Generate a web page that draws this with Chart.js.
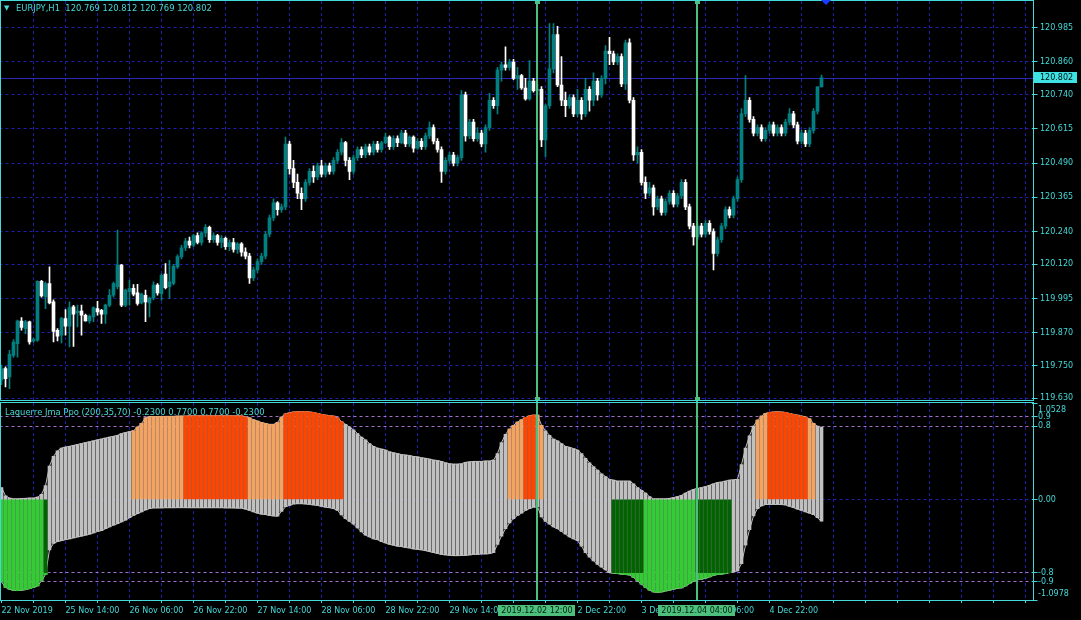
<!DOCTYPE html>
<html>
<head>
<meta charset="utf-8">
<script src="https://cdn.jsdelivr.net/npm/chart.js@4.4.1/dist/chart.umd.min.js"></script>
<style>
  body { margin: 0; background: #000; }
  #wrap { position: relative; width: 1081px; height: 620px; background: #000; overflow: hidden; }
  #top { position: absolute; left: -1px; top: 0; }
  #bottom { position: absolute; left: -1px; top: 401px; }
  .cap { position: absolute; color: #45d8d8; font: 8.4px "DejaVu Sans"; line-height: 10px; white-space: pre; }
</style>
</head>
<body>
<div id="wrap">
  <canvas id="top" width="1082" height="401"></canvas>
  <canvas id="bottom" width="1082" height="219"></canvas>
  <div class="cap" style="left:4px;top:3px;font-size:7px">▼</div>
  <div class="cap" style="left:16px;top:3px">EURJPY,H1  120.769 120.812 120.769 120.802</div>
  <div class="cap" style="left:5px;top:407px">Laguerre Jma Ppo (200,35,70) -0.2300 0.7700 0.7700 -0.2300</div>
</div>
<script>
// EURJPY H1 candles
const opens = [
  119.697, 119.739, 119.708, 119.787, 119.830, 119.913, 119.885, 119.910, 119.840, 119.843,
  120.058, 120.001, 120.050, 119.983, 119.879, 119.861, 119.922, 119.894, 119.965, 119.943,
  119.949, 119.934, 119.913, 119.928, 119.958, 119.952, 119.938, 119.971, 120.007, 120.038,
  120.117, 119.971, 120.020, 120.032, 120.016, 119.979, 120.007, 119.979, 119.997, 120.044,
  120.013, 120.084, 120.038, 120.050, 120.111, 120.148, 120.180, 120.205, 120.190, 120.225,
  120.200, 120.235, 120.255, 120.210, 120.225, 120.200, 120.215, 120.185, 120.200, 120.175,
  120.195, 120.165, 120.150, 120.070, 120.100, 120.130, 120.150, 120.230, 120.290, 120.345,
  120.320, 120.330, 120.560, 120.470, 120.420, 120.380, 120.360, 120.420, 120.460, 120.440,
  120.480, 120.450, 120.480, 120.460, 120.500, 120.530, 120.565, 120.500, 120.460, 120.510,
  120.540, 120.520, 120.550, 120.530, 120.560, 120.540, 120.565, 120.585, 120.550, 120.580,
  120.565, 120.600, 120.560, 120.585, 120.545, 120.570, 120.550, 120.590, 120.620, 120.570,
  120.540, 120.460, 120.500, 120.520, 120.490, 120.510, 120.740, 120.590, 120.640, 120.580,
  120.600, 120.560, 120.620, 120.720, 120.700, 120.830, 120.850, 120.840, 120.860, 120.800,
  120.810, 120.765, 120.725, 120.790, 120.755, 120.760, 120.575, 120.700, 120.835, 120.960,
  120.776, 120.720, 120.700, 120.730, 120.670, 120.720, 120.670, 120.760, 120.720, 120.790,
  120.740, 120.800, 120.900, 120.890, 120.860, 120.880, 120.780, 120.930, 120.720, 120.520,
  120.530, 120.420, 120.380, 120.400, 120.330, 120.360, 120.310, 120.350, 120.380, 120.340,
  120.370, 120.420, 120.330, 120.260, 120.220, 120.260, 120.230, 120.270, 120.240, 120.160,
  120.210, 120.260, 120.320, 120.300, 120.360, 120.430, 120.670, 120.720, 120.650, 120.600,
  120.620, 120.580, 120.610, 120.630, 120.600, 120.620, 120.600, 120.640, 120.670, 120.630,
  120.570, 120.600, 120.560, 120.610, 120.680, 120.769
];
const highs = [
  119.752, 119.745, 119.806, 119.845, 119.916, 119.925, 119.915, 119.913, 119.850, 120.060,
  120.062, 120.055, 120.111, 119.990, 119.885, 119.926, 119.955, 119.983, 119.970, 119.971,
  119.971, 119.938, 119.935, 119.965, 119.985, 119.956, 119.975, 120.028, 120.055, 120.245,
  120.120, 120.030, 120.062, 120.046, 120.047, 120.015, 120.026, 120.000, 120.056, 120.050,
  120.085, 120.123, 120.135, 120.120, 120.155, 120.190, 120.215, 120.220, 120.230, 120.235,
  120.240, 120.265, 120.260, 120.235, 120.230, 120.225, 120.220, 120.210, 120.215, 120.200,
  120.200, 120.180, 120.160, 120.110, 120.140, 120.160, 120.240, 120.300, 120.360, 120.350,
  120.340, 120.585, 120.570, 120.500, 120.450, 120.400, 120.430, 120.470, 120.480, 120.490,
  120.500, 120.490, 120.490, 120.510, 120.540, 120.580, 120.570, 120.510, 120.520, 120.550,
  120.550, 120.560, 120.560, 120.570, 120.570, 120.570, 120.600, 120.590, 120.590, 120.590,
  120.610, 120.610, 120.590, 120.590, 120.580, 120.580, 120.600, 120.640, 120.630, 120.580,
  120.550, 120.510, 120.530, 120.530, 120.520, 120.755, 120.750, 120.650, 120.650, 120.620,
  120.610, 120.630, 120.745, 120.730, 120.840, 120.860, 120.915, 120.870, 120.870, 120.840,
  120.815, 120.800, 120.865, 120.800, 120.780, 120.770, 120.705, 121.000, 121.000, 120.990,
  120.880, 120.750, 120.740, 120.740, 120.760, 120.730, 120.800, 120.770, 120.820, 120.800,
  120.810, 120.920, 120.950, 120.900, 120.890, 120.890, 120.940, 120.945, 120.730, 120.550,
  120.540, 120.440, 120.420, 120.410, 120.370, 120.370, 120.360, 120.390, 120.390, 120.380,
  120.430, 120.430, 120.340, 120.270, 120.270, 120.270, 120.280, 120.280, 120.250, 120.220,
  120.270, 120.330, 120.330, 120.370, 120.440, 120.690, 120.810, 120.730, 120.660, 120.630,
  120.630, 120.620, 120.640, 120.640, 120.630, 120.630, 120.650, 120.690, 120.680, 120.640,
  120.610, 120.610, 120.620, 120.690, 120.770, 120.812
];
const lows = [
  119.680, 119.672, 119.665, 119.780, 119.781, 119.879, 119.867, 119.828, 119.835, 119.838,
  120.000, 119.958, 119.975, 119.836, 119.840, 119.833, 119.861, 119.818, 119.820, 119.891,
  119.861, 119.912, 119.905, 119.910, 119.934, 119.904, 119.904, 119.965, 120.000, 120.030,
  119.965, 119.965, 119.971, 120.005, 119.971, 119.975, 119.910, 119.928, 119.990, 120.007,
  119.989, 120.030, 119.995, 120.045, 120.105, 120.140, 120.170, 120.180, 120.185, 120.195,
  120.190, 120.220, 120.200, 120.200, 120.190, 120.180, 120.175, 120.170, 120.165, 120.160,
  120.150, 120.140, 120.050, 120.060, 120.090, 120.120, 120.140, 120.220, 120.280, 120.300,
  120.310, 120.320, 120.450, 120.400, 120.360, 120.320, 120.350, 120.410, 120.420, 120.430,
  120.440, 120.440, 120.450, 120.450, 120.490, 120.520, 120.480, 120.430, 120.450, 120.500,
  120.510, 120.510, 120.520, 120.520, 120.530, 120.530, 120.560, 120.540, 120.540, 120.550,
  120.560, 120.550, 120.550, 120.530, 120.540, 120.540, 120.540, 120.580, 120.560, 120.530,
  120.420, 120.450, 120.490, 120.480, 120.480, 120.500, 120.570, 120.580, 120.570, 120.570,
  120.550, 120.530, 120.610, 120.690, 120.670, 120.790, 120.830, 120.830, 120.795, 120.760,
  120.760, 120.720, 120.720, 120.750, 120.740, 120.550, 120.514, 120.690, 120.820, 120.770,
  120.700, 120.660, 120.690, 120.660, 120.660, 120.650, 120.660, 120.680, 120.700, 120.720,
  120.730, 120.780, 120.850, 120.850, 120.850, 120.770, 120.760, 120.710, 120.500, 120.490,
  120.410, 120.360, 120.370, 120.300, 120.320, 120.300, 120.300, 120.340, 120.330, 120.330,
  120.360, 120.320, 120.250, 120.190, 120.210, 120.220, 120.220, 120.230, 120.100, 120.150,
  120.200, 120.250, 120.290, 120.290, 120.350, 120.420, 120.660, 120.640, 120.590, 120.590,
  120.570, 120.570, 120.600, 120.590, 120.590, 120.590, 120.590, 120.630, 120.620, 120.560,
  120.560, 120.550, 120.550, 120.600, 120.670, 120.769
];
const closes = [
  119.739, 119.702, 119.791, 119.836, 119.913, 119.889, 119.910, 119.836, 119.845, 120.058,
  120.005, 120.050, 119.979, 119.875, 119.857, 119.922, 119.894, 119.962, 119.938, 119.949,
  119.934, 119.913, 119.930, 119.962, 119.946, 119.938, 119.971, 120.007, 120.050, 120.117,
  119.971, 120.026, 120.032, 120.011, 119.977, 120.011, 119.983, 119.997, 120.044, 120.016,
  120.080, 120.035, 120.056, 120.113, 120.148, 120.180, 120.205, 120.190, 120.225, 120.200,
  120.235, 120.255, 120.210, 120.225, 120.200, 120.215, 120.185, 120.200, 120.175, 120.195,
  120.165, 120.150, 120.070, 120.100, 120.130, 120.150, 120.230, 120.290, 120.345, 120.320,
  120.330, 120.560, 120.470, 120.420, 120.380, 120.360, 120.420, 120.460, 120.440, 120.480,
  120.450, 120.480, 120.460, 120.500, 120.530, 120.565, 120.500, 120.460, 120.510, 120.540,
  120.520, 120.550, 120.530, 120.560, 120.540, 120.565, 120.585, 120.550, 120.580, 120.565,
  120.600, 120.560, 120.585, 120.545, 120.570, 120.550, 120.590, 120.620, 120.570, 120.540,
  120.460, 120.500, 120.520, 120.490, 120.510, 120.740, 120.590, 120.640, 120.580, 120.600,
  120.560, 120.620, 120.720, 120.700, 120.830, 120.850, 120.840, 120.860, 120.800, 120.810,
  120.765, 120.725, 120.790, 120.755, 120.760, 120.575, 120.700, 120.835, 120.960, 120.776,
  120.720, 120.700, 120.730, 120.670, 120.720, 120.670, 120.760, 120.720, 120.790, 120.740,
  120.800, 120.900, 120.890, 120.860, 120.880, 120.780, 120.930, 120.720, 120.520, 120.530,
  120.420, 120.380, 120.400, 120.330, 120.360, 120.310, 120.350, 120.380, 120.340, 120.370,
  120.420, 120.330, 120.260, 120.220, 120.260, 120.230, 120.270, 120.240, 120.160, 120.210,
  120.260, 120.320, 120.300, 120.360, 120.430, 120.670, 120.720, 120.650, 120.600, 120.620,
  120.580, 120.610, 120.630, 120.600, 120.620, 120.600, 120.640, 120.670, 120.630, 120.570,
  120.600, 120.560, 120.610, 120.680, 120.769, 120.802
];

const priceTicks = [120.985, 120.860, 120.740, 120.615, 120.490, 120.365, 120.240, 120.120, 119.995, 119.870, 119.750, 119.630];
const priceMin = 119.624;
const priceMax = 121.083;

// time axis: 258 hourly slots fit the window, labels every 16 bars
const slotCount = 258;
const timeTickBars = [0, 16, 32, 48, 64, 80, 96, 112, 128, 144, 160, 176, 192];
const timeTickLabels = ["22 Nov 2019", "25 Nov 14:00", "26 Nov 06:00", "26 Nov 22:00", "27 Nov 14:00", "28 Nov 06:00",
  "28 Nov 22:00", "29 Nov 14:00", "2 Dec 06:00", "2 Dec 22:00", "3 Dec 14:00", "4 Dec 06:00", "4 Dec 22:00"];

// Laguerre Jma Ppo band (upper / lower edge per bar)
const ppoUpper = [
  0.13, 0.04, 0.015, 0.007, 0.007, 0.01, 0.012, 0.015, 0.015, 0.025,
  0.055, 0.15, 0.365, 0.47, 0.53, 0.56, 0.572, 0.58, 0.59, 0.60,
  0.61, 0.62, 0.63, 0.64, 0.65, 0.66, 0.67, 0.68, 0.69, 0.70,
  0.72, 0.73, 0.74, 0.75, 0.79, 0.83, 0.89, 0.905, 0.905, 0.906,
  0.906, 0.907, 0.907, 0.908, 0.909, 0.91, 0.91, 0.913, 0.913, 0.913,
  0.913, 0.913, 0.913, 0.913, 0.913, 0.913, 0.913, 0.913, 0.913, 0.913,
  0.913, 0.90, 0.89, 0.87, 0.855, 0.84, 0.83, 0.82, 0.82, 0.84,
  0.90, 0.935, 0.945, 0.955, 0.957, 0.958, 0.958, 0.955, 0.95, 0.94,
  0.93, 0.92, 0.915, 0.91, 0.89, 0.85, 0.82, 0.79, 0.76, 0.72,
  0.68, 0.65, 0.61, 0.58, 0.56, 0.55, 0.54, 0.52, 0.51, 0.50,
  0.49, 0.485, 0.48, 0.47, 0.465, 0.455, 0.45, 0.44, 0.43, 0.425,
  0.415, 0.40, 0.39, 0.385, 0.385, 0.39, 0.405, 0.41, 0.415, 0.415,
  0.415, 0.42, 0.42, 0.43, 0.50, 0.62, 0.71, 0.767, 0.81, 0.845,
  0.87, 0.895, 0.913, 0.92, 0.92, 0.81, 0.75, 0.70, 0.66, 0.64,
  0.61, 0.58, 0.57, 0.555, 0.54, 0.50, 0.45, 0.40, 0.36, 0.32,
  0.28, 0.25, 0.22, 0.21, 0.20, 0.20, 0.20, 0.20, 0.17, 0.13,
  0.10, 0.07, 0.03, 0.007, 0.007, 0.007, 0.007, 0.012, 0.02, 0.03,
  0.045, 0.07, 0.09, 0.11, 0.12, 0.13, 0.14, 0.155, 0.17, 0.185,
  0.19, 0.20, 0.21, 0.215, 0.22, 0.38, 0.56, 0.694, 0.80, 0.865,
  0.91, 0.94, 0.95, 0.955, 0.957, 0.955, 0.95, 0.94, 0.93, 0.92,
  0.91, 0.90, 0.88, 0.83, 0.80, 0.786
];
const ppoLower = [
  -0.90, -0.96, -0.98, -0.993, -0.995, -0.99, -0.986, -0.975, -0.96, -0.945,
  -0.89, -0.82, -0.55, -0.48, -0.46, -0.45, -0.44, -0.43, -0.42, -0.41,
  -0.40, -0.39, -0.38, -0.365, -0.35, -0.34, -0.32, -0.30, -0.28, -0.265,
  -0.245, -0.225, -0.20, -0.175, -0.155, -0.135, -0.115, -0.10, -0.093, -0.092,
  -0.092, -0.091, -0.091, -0.091, -0.09, -0.09, -0.09, -0.091, -0.091, -0.091,
  -0.091, -0.091, -0.091, -0.091, -0.091, -0.091, -0.092, -0.092, -0.093, -0.094,
  -0.095, -0.105, -0.12, -0.135, -0.15, -0.16, -0.165, -0.175, -0.18, -0.183,
  -0.13, -0.08, -0.065, -0.05, -0.047, -0.047, -0.05, -0.055, -0.06, -0.066,
  -0.075, -0.085, -0.091, -0.10, -0.12, -0.17, -0.21, -0.24, -0.27, -0.31,
  -0.355, -0.39, -0.41, -0.43, -0.44, -0.46, -0.475, -0.49, -0.50, -0.51,
  -0.515, -0.525, -0.53, -0.54, -0.545, -0.55, -0.56, -0.57, -0.58, -0.59,
  -0.60, -0.605, -0.61, -0.614, -0.614, -0.612, -0.61, -0.605, -0.60, -0.60,
  -0.595, -0.595, -0.592, -0.58, -0.49, -0.40, -0.32, -0.256, -0.21, -0.175,
  -0.15, -0.12, -0.10, -0.085, -0.08, -0.19, -0.24, -0.27, -0.30, -0.32,
  -0.35, -0.38, -0.41, -0.43, -0.45, -0.51, -0.58, -0.63, -0.67, -0.71,
  -0.74, -0.77, -0.80, -0.805, -0.81, -0.815, -0.82, -0.825, -0.85, -0.89,
  -0.925, -0.96, -0.99, -1.01, -1.015, -1.01, -1.0, -0.99, -0.98, -0.97,
  -0.965, -0.945, -0.92, -0.895, -0.877, -0.87, -0.86, -0.845, -0.83, -0.82,
  -0.815, -0.81, -0.80, -0.79, -0.78, -0.70, -0.50, -0.33, -0.18, -0.10,
  -0.07, -0.056, -0.055, -0.055, -0.055, -0.056, -0.06, -0.075, -0.09, -0.105,
  -0.12, -0.135, -0.15, -0.165, -0.20, -0.238
];
// colour zones of the histogram: g lime, G dark green, o sandy, O orange-red, - none
const ppoZones = [['g', 11], ['G', 1], ['-', 21], ['o', 13], ['O', 16], ['o', 9], ['O', 15], ['-', 41],
  ['o', 4], ['O', 3], ['o', 2], ['-', 17], ['G', 8], ['g', 13], ['G', 9], ['-', 6], ['o', 3], ['O', 10], ['o', 2], ['-', 2]];
const ppoTicks = [1.0528, 0.9, 0.8, 0, -0.8, -0.9, -1.0978];
const ppoTickLabels = ["1.0528", "0.9", "0.8", "0.00", "-0.8", "-0.9", "-1.0978"];
const ppoLevels = [0.9, 0.8, -0.8, -0.9];

const vlineBars = [134, 174];
const vlineLabels = ["2019.12.02 12:00", "2019.12.04 04:00"];
// small blue arrow marker sitting on the top edge, one bar past the last candle
const arrowBar = 206;

const CYAN = '#45d8d8';
const NAVY = '#1e1eaa';
const VIOLET = '#a472c8';
const VGREEN = '#4cc07c';
const FONT = { family: 'DejaVu Sans', size: 8 };
// canvases sit 1px left of the page so the 4px bar slots land on whole pixels
const SHIFT = 1;
const FRAME_X = 1033.5 + SHIFT;
Chart.defaults.font.family = 'DejaVu Sans';

const axisLabels = Array(slotCount).fill('');
timeTickBars.forEach((b, k) => { axisLabels[b] = timeTickLabels[k]; });

const candleColors = closes.map((c, i) => c >= opens[i] ? '#008080' : '#ffffff');

const state = [];
ppoZones.forEach(([s, n]) => { for (let k = 0; k < n; k++) state.push(s); });
const innerLow = ppoLevels[2];
const band = ppoUpper.map((u, i) => [ppoLower[i], u]);
const sandy = ppoUpper.map((u, i) => state[i] === 'o' ? [0, u] : null);
const orangeRed = ppoUpper.map((u, i) => state[i] === 'O' ? [0, u] : null);
const darkGreen = ppoLower.map((l, i) => state[i] === 'G' ? [Math.max(l, innerLow), 0] : null);
const lime = ppoLower.map((l, i) => {
  if (state[i] === 'g') return [l, 0];
  if (state[i] === 'G' && l < innerLow) return [l, innerLow];
  return null;
});

const gridX = c => (c.index > 0 && c.index % 8 === 0) ? NAVY : 'transparent';

function drawVlines(chart, withLabels) {
  const { ctx, chartArea } = chart;
  const xs = chart.scales.x;
  ctx.save();
  vlineBars.forEach((b, k) => {
    const x = Math.floor(xs.getPixelForValue(b));
    ctx.fillStyle = VGREEN;
    const bottom = withLabels ? chartArea.bottom + 1 : chart.height;
    ctx.fillRect(x - 1, 0, 2, bottom);
    if (!withLabels) {
      ctx.fillRect(x - 2, 0, 5, 4);
      ctx.fillRect(x - 2, chartArea.bottom - 3, 5, 4);
    } else {
      ctx.font = '8px "DejaVu Sans"';
      const w = ctx.measureText(vlineLabels[k]).width + 6;
      ctx.fillRect(Math.round(x - w / 2), chartArea.bottom + 5, Math.round(w), 11);
      ctx.fillStyle = '#06200f';
      ctx.textAlign = 'center';
      ctx.textBaseline = 'middle';
      ctx.fillText(vlineLabels[k], x, chartArea.bottom + 11);
    }
  });
  ctx.restore();
}

function drawFrame(chart, bottomPane) {
  const { ctx, chartArea } = chart;
  const top = bottomPane ? 1.5 : 0.5;
  const bottom = Math.round(chartArea.bottom) + 0.5;
  ctx.save();
  ctx.strokeStyle = CYAN;
  ctx.lineWidth = 1;
  ctx.strokeRect(0.5 + SHIFT, top, FRAME_X - 0.5 - SHIFT, bottom - top);
  ctx.restore();
}

const topDecor = {
  id: 'topDecor',
  beforeDatasetsDraw(chart) {
    const { ctx, chartArea } = chart;
    const y = Math.round(chart.scales.y.getPixelForValue(closes[closes.length - 1])) + 0.5;
    ctx.save();
    ctx.strokeStyle = '#2a2ab8';
    ctx.beginPath();
    ctx.moveTo(chartArea.left, y);
    ctx.lineTo(FRAME_X, y);
    ctx.stroke();
    ctx.restore();
  },
  afterDraw(chart) {
    const { ctx } = chart;
    drawVlines(chart, false);
    drawFrame(chart, false);
    const last = closes[closes.length - 1];
    const y = Math.round(chart.scales.y.getPixelForValue(last));
    ctx.save();
    ctx.fillStyle = '#3fe2e2';
    ctx.fillRect(1034 + SHIFT, y - 6, 43, 11);
    ctx.fillStyle = '#001010';
    ctx.font = '8px "DejaVu Sans"';
    ctx.textBaseline = 'middle';
    ctx.fillText(last.toFixed(3), 1040 + SHIFT, y);
    // arrow marker on the top edge
    const ax = Math.round(chart.scales.x.getPixelForValue(arrowBar));
    ctx.fillStyle = '#1a3cff';
    ctx.beginPath();
    ctx.moveTo(ax - 5, 0);
    ctx.lineTo(ax + 5, 0);
    ctx.lineTo(ax, 5);
    ctx.closePath();
    ctx.fill();
    ctx.restore();
  }
};

const bottomDecor = {
  id: 'bottomDecor',
  afterDraw(chart) {
    const { ctx } = chart;
    const ys = chart.scales.y;
    drawVlines(chart, true);
    drawFrame(chart, true);
    ctx.save();
    ctx.fillStyle = CYAN;
    ctx.font = '8px "DejaVu Sans"';
    ctx.textBaseline = 'middle';
    const first = ppoTicks[0], lastT = ppoTicks[ppoTicks.length - 1];
    ctx.fillText(ppoTickLabels[0], 1038 + SHIFT, ys.getPixelForValue(first) + 7);
    ctx.fillText(ppoTickLabels[ppoTickLabels.length - 1], 1038 + SHIFT, ys.getPixelForValue(lastT) - 6);
    ctx.restore();
  }
};

// all bars share one slot per bar ('stack' without value stacking) so barThickness is honoured
new Chart(document.getElementById('top'), {
  type: 'bar',
  data: {
    labels: axisLabels,
    datasets: [
      { data: opens.map((o, i) => [o, closes[i]]), backgroundColor: candleColors, barThickness: 3, minBarLength: 1, stack: 'c', order: 1 },
      { data: lows.map((l, i) => [l, highs[i]]), backgroundColor: candleColors, barThickness: 1, stack: 'c', order: 2 }
    ]
  },
  options: {
    responsive: false,
    animation: false,
    events: [],
    layout: { padding: { left: 0.5, top: 1, right: 0, bottom: 1 } },
    plugins: { legend: { display: false }, tooltip: { enabled: false } },
    scales: {
      x: {
        offset: true,
        ticks: { display: false, autoSkip: false },
        grid: { offset: false, drawTicks: false, color: gridX },
        border: { display: false, dash: [3, 3] },
        afterFit: s => { s.height = 0; s.paddingLeft = 0; s.paddingRight = 0; }
      },
      y: {
        position: 'right',
        stacked: false,
        min: priceMin,
        max: priceMax,
        afterBuildTicks: s => { s.ticks = priceTicks.map(v => ({ value: v })); },
        afterFit: s => { s.width = 49.5; s.paddingTop = 0; s.paddingBottom = 0; },
        ticks: { color: CYAN, font: FONT, padding: 2.5, callback: v => v.toFixed(3) },
        grid: { color: NAVY, tickColor: CYAN, tickLength: 6 },
        border: { display: false, dash: [3, 3] }
      }
    }
  },
  plugins: [topDecor]
});

new Chart(document.getElementById('bottom'), {
  type: 'bar',
  data: {
    labels: axisLabels,
    datasets: [
      { data: orangeRed, backgroundColor: '#ff4500', barThickness: 3, stack: 'p', order: 1 },
      { data: sandy, backgroundColor: '#f4a460', barThickness: 3, stack: 'p', order: 1 },
      { data: darkGreen, backgroundColor: '#006400', barThickness: 3, stack: 'p', order: 1 },
      { data: lime, backgroundColor: '#32cd32', barThickness: 3, stack: 'p', order: 1 },
      { data: band, backgroundColor: '#c0c0c0', barThickness: 3, stack: 'p', order: 2 },
      { type: 'line', data: ppoUpper, borderColor: '#c0c0c0', borderWidth: 1, pointRadius: 0, order: 3 },
      { type: 'line', data: ppoLower, borderColor: '#c0c0c0', borderWidth: 1, pointRadius: 0, order: 3 }
    ]
  },
  options: {
    responsive: false,
    animation: false,
    events: [],
    layout: { padding: { left: 0.5, top: 2, right: 0, bottom: 0 } },
    plugins: { legend: { display: false }, tooltip: { enabled: false } },
    scales: {
      x: {
        offset: true,
        ticks: {
          autoSkip: false, maxRotation: 0, minRotation: 0, align: 'start',
          color: CYAN, font: FONT, padding: 3,
          callback: (v, i) => axisLabels[i]
        },
        grid: { offset: false, color: gridX, tickColor: c => c.index % 8 === 0 ? CYAN : 'transparent', tickLength: 3 },
        border: { display: false, dash: [3, 3] },
        afterFit: s => { s.height = 20; s.paddingLeft = 0; s.paddingRight = 0; }
      },
      y: {
        position: 'right',
        stacked: false,
        min: ppoTicks[ppoTicks.length - 1],
        max: ppoTicks[0],
        afterBuildTicks: s => { s.ticks = ppoTicks.map(v => ({ value: v })); },
        afterFit: s => { s.width = 49.5; s.paddingTop = 0; s.paddingBottom = 0; },
        ticks: {
          color: CYAN, font: FONT, padding: 0.5,
          callback: v => {
            const k = ppoTicks.indexOf(v);
            return (k === 0 || k === ppoTicks.length - 1) ? '' : ppoTickLabels[k];
          }
        },
        grid: {
          color: c => c.tick.value === 0 ? NAVY : (ppoLevels.includes(c.tick.value) ? VIOLET : 'transparent'),
          tickColor: CYAN, tickLength: 6
        },
        border: { display: false, dash: [3, 3] }
      }
    }
  },
  plugins: [bottomDecor]
});
</script>
</body>
</html>
